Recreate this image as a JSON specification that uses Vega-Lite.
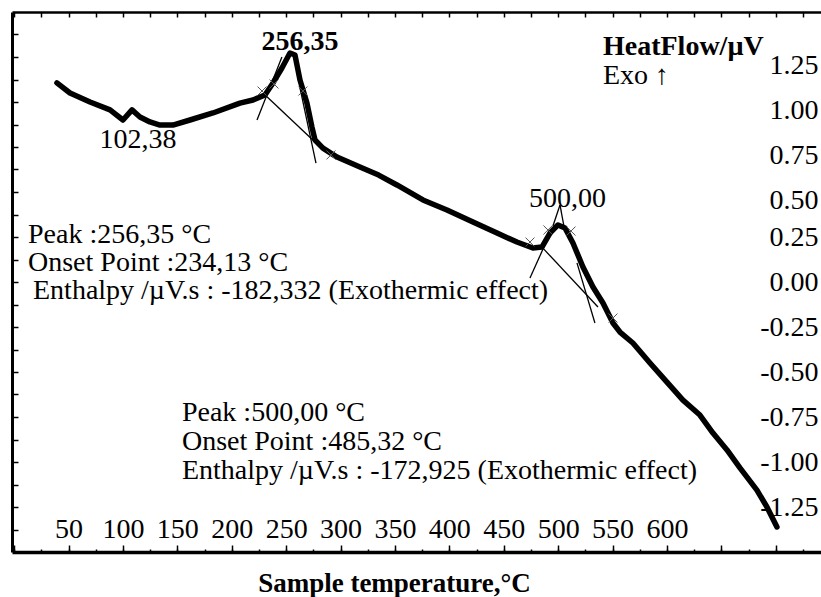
{
  "$schema": "https://vega.github.io/schema/vega-lite/v6.json",
  "usermeta": {"embedOptions": {"actions": false}},
  "width": 809,
  "height": 540,
  "autosize": {"type": "none"},
  "padding": {"left": 12, "top": 12, "right": 0, "bottom": 45},
  "background": "white",
  "config": {
    "font": "Liberation Serif",
    "view": {"stroke": null},
    "axis": {"grid": false, "domainColor": "black", "tickColor": "black", "labelColor": "black", "titleColor": "black", "labelFont": "Liberation Serif", "titleFont": "Liberation Serif"}
  },
  "datasets": {
    "curve": [
      {"t": 39.3, "hf": 1.106}, {"t": 51.3, "hf": 1.05}, {"t": 69.7, "hf": 1.0}, {"t": 88.1, "hf": 0.956},
      {"t": 100.0, "hf": 0.9}, {"t": 108.3, "hf": 0.956}, {"t": 115.6, "hf": 0.917}, {"t": 124.8, "hf": 0.889},
      {"t": 134.0, "hf": 0.872}, {"t": 145.9, "hf": 0.872}, {"t": 161.6, "hf": 0.9}, {"t": 182.7, "hf": 0.939},
      {"t": 207.5, "hf": 0.994}, {"t": 219.5, "hf": 1.011}, {"t": 230.5, "hf": 1.039}, {"t": 237.9, "hf": 1.106},
      {"t": 246.1, "hf": 1.189}, {"t": 253.5, "hf": 1.272}, {"t": 258.1, "hf": 1.261}, {"t": 262.7, "hf": 1.122},
      {"t": 269.1, "hf": 0.994}, {"t": 273.7, "hf": 0.861}, {"t": 276.5, "hf": 0.789}, {"t": 283.8, "hf": 0.744},
      {"t": 296.7, "hf": 0.694}, {"t": 317.8, "hf": 0.639}, {"t": 335.0, "hf": 0.594}, {"t": 351.8, "hf": 0.539},
      {"t": 375.7, "hf": 0.456}, {"t": 397.8, "hf": 0.4}, {"t": 421.7, "hf": 0.333}, {"t": 443.8, "hf": 0.272},
      {"t": 462.1, "hf": 0.222}, {"t": 476.8, "hf": 0.189}, {"t": 485.1, "hf": 0.194}, {"t": 492.5, "hf": 0.272},
      {"t": 499.8, "hf": 0.317}, {"t": 506.3, "hf": 0.3}, {"t": 513.6, "hf": 0.217}, {"t": 522.8, "hf": 0.083},
      {"t": 532.0, "hf": -0.028}, {"t": 541.2, "hf": -0.117}, {"t": 550.4, "hf": -0.228}, {"t": 556.8, "hf": -0.278},
      {"t": 568.7, "hf": -0.339}, {"t": 584.4, "hf": -0.45}, {"t": 600.0, "hf": -0.556}, {"t": 614.7, "hf": -0.656},
      {"t": 630.3, "hf": -0.739}, {"t": 642.3, "hf": -0.839}, {"t": 655.2, "hf": -0.933}, {"t": 667.1, "hf": -1.033},
      {"t": 682.7, "hf": -1.156}, {"t": 691.9, "hf": -1.25}, {"t": 701.1, "hf": -1.361}
    ],
    "tangents": [
      {"seg": "a", "t": 223.2, "hf": 0.9}, {"seg": "a", "t": 246.1, "hf": 1.25},
      {"seg": "b", "t": 228.7, "hf": 1.05}, {"seg": "b", "t": 277.4, "hf": 0.772},
      {"seg": "c", "t": 262.7, "hf": 1.078}, {"seg": "c", "t": 277.4, "hf": 0.661},
      {"seg": "d", "t": 474.1, "hf": 0.022}, {"seg": "d", "t": 490.6, "hf": 0.244},
      {"seg": "e", "t": 485.1, "hf": 0.194}, {"seg": "e", "t": 536.6, "hf": -0.139},
      {"seg": "f", "t": 517.3, "hf": 0.106}, {"seg": "f", "t": 533.8, "hf": -0.228},
      {"seg": "g", "t": 495.2, "hf": 0.311}, {"seg": "g", "t": 501.7, "hf": 0.428},
      {"seg": "h", "t": 501.7, "hf": 0.428}, {"seg": "h", "t": 505.3, "hf": 0.311}
    ],
    "markers": [
      {"t": 227.8, "hf": 1.061}, {"t": 238.8, "hf": 1.1}, {"t": 265.4, "hf": 1.061}, {"t": 291.2, "hf": 0.706},
      {"t": 474.1, "hf": 0.222}, {"t": 490.6, "hf": 0.289}, {"t": 511.8, "hf": 0.283}, {"t": 550.4, "hf": -0.2}
    ],
    "notes": [
      {"role": "mainpeak", "text": "256,35", "t": 262.7, "hf": 1.289},
      {"role": "peak", "text": "102,38", "t": 113.8, "hf": 0.744},
      {"role": "peak", "text": "500,00", "t": 508.5, "hf": 0.417},
      {"role": "unit", "text": "HeatFlow/µV", "t": 541.2, "hf": 1.261},
      {"role": "info", "text": "Exo ↑", "t": 541.2, "hf": 1.1},
      {"role": "info", "text": "Peak :256,35 °C", "t": 12.7, "hf": 0.217},
      {"role": "info", "text": "Onset Point :234,13 °C", "t": 12.7, "hf": 0.061},
      {"role": "info", "text": "Enthalpy /µV.s : -182,332 (Exothermic effect)", "t": 17.3, "hf": -0.094},
      {"role": "info", "text": "Peak :500,00 °C", "t": 154.2, "hf": -0.772},
      {"role": "info", "text": "Onset Point :485,32 °C", "t": 154.2, "hf": -0.933},
      {"role": "info", "text": "Enthalpy /µV.s : -172,925 (Exothermic effect)", "t": 154.2, "hf": -1.094}
    ]
  },
  "resolve": {"axis": {"x": "independent", "y": "independent"}},
  "layer": [
    {
      "data": {"name": "curve"},
      "mark": {"type": "line", "color": "black", "strokeWidth": 5.5, "strokeJoin": "round", "strokeCap": "round"},
      "encoding": {
        "x": {"field": "t", "type": "quantitative", "scale": {"domain": [-2, 741.6], "nice": false, "zero": false},
          "axis": {"orient": "bottom", "values": [0,25,50,75,100,125,150,175,200,225,250,275,300,325,350,375,400,425,450,475,500,525,550,575,600,625,650,675,700,725],
            "tickSize": -3, "tickWidth": 1.5, "domainWidth": 3.5, "labels": false,
            "title": "Sample temperature,°C", "titleFont": "Liberation Serif", "titleFontSize": 27, "titleFontWeight": "bold", "titleBaseline": "alphabetic", "titleAlign": "center", "titleX": 382, "titleY": 39}},
        "y": {"field": "hf", "type": "quantitative", "scale": {"domain": [-1.5, 1.5], "nice": false, "zero": false},
          "axis": {"orient": "left", "values": [-1.375,-1.25,-1.125,-1,-0.875,-0.75,-0.625,-0.5,-0.375,-0.25,-0.125,0,0.125,0.25,0.375,0.5,0.625,0.75,0.875,1,1.125,1.25,1.375],
            "tickSize": -6, "tickWidth": 1.5, "domainWidth": 3, "labels": false, "title": null}}
      }
    },
    {
      "data": {"name": "tangents"},
      "mark": {"type": "line", "color": "black", "strokeWidth": 1.3},
      "encoding": {
        "detail": {"field": "seg"},
        "x": {"field": "t", "type": "quantitative", "scale": {"domain": [-2, 741.6], "nice": false, "zero": false},
          "axis": {"orient": "bottom", "values": [0,50,100,150,200,250,300,350,400,450,500,550,600,650,700],
            "domain": false, "tickSize": -7, "tickWidth": 1.5, "labelFontSize": 28, "labelPadding": -8, "labelBaseline": "alphabetic",
            "labelOverlap": false, "labelFlush": false,
            "labelExpr": "datum.value >= 50 && datum.value <= 600 ? format(datum.value, 'd') : ''", "title": null}},
        "y": {"field": "hf", "type": "quantitative", "scale": {"domain": [-1.5, 1.5], "nice": false, "zero": false},
          "axis": {"orient": "right", "values": [-1.25,-1,-0.75,-0.5,-0.25,0,0.25,0.5,0.75,1,1.25],
            "domain": false, "ticks": false, "offset": -3, "labelAlign": "right", "labelPadding": 0, "labelFontSize": 28,
            "labelOverlap": false, "labelFlush": false,
            "labelOffset": {"condition": {"test": "datum.value > 0.4", "value": 8}, "value": 0},
            "labelExpr": "(datum.value < 0 ? '-' : '') + format(abs(datum.value), '.2f')", "title": null}}
      }
    },
    {
      "data": {"name": "markers"},
      "mark": {"type": "point", "shape": "M-1,-1L1,1M-1,1L1,-1", "size": 80, "filled": false, "stroke": "#555", "strokeWidth": 1, "opacity": 1},
      "encoding": {
        "x": {"field": "t", "type": "quantitative", "scale": {"domain": [-2, 741.6], "nice": false, "zero": false},
          "axis": {"orient": "top", "values": [0,25,50,75,100,125,150,175,200,225,250,275,300,325,350,375,400,425,450,475,500,525,550,575,600,625,650,675,700,725],
            "tickSize": -5, "tickWidth": 1.5, "domainWidth": 2.5, "labels": false, "title": null}},
        "y": {"field": "hf", "type": "quantitative", "scale": {"domain": [-1.5, 1.5], "nice": false, "zero": false}, "axis": null}
      }
    },
    {
      "data": {"name": "notes"},
      "transform": [{"filter": "datum.role === 'info'"}],
      "mark": {"type": "text", "align": "left", "baseline": "alphabetic", "fontSize": 28, "font": "Liberation Serif", "color": "black"},
      "encoding": {
        "x": {"field": "t", "type": "quantitative", "scale": {"domain": [-2, 741.6], "nice": false, "zero": false}, "axis": null},
        "y": {"field": "hf", "type": "quantitative", "scale": {"domain": [-1.5, 1.5], "nice": false, "zero": false}, "axis": null},
        "text": {"field": "text"}
      }
    },
    {
      "data": {"name": "notes"},
      "transform": [{"filter": "datum.role === 'unit'"}],
      "mark": {"type": "text", "align": "left", "baseline": "alphabetic", "fontSize": 28, "fontWeight": "bold", "font": "Liberation Serif", "color": "black"},
      "encoding": {
        "x": {"field": "t", "type": "quantitative", "scale": {"domain": [-2, 741.6], "nice": false, "zero": false}, "axis": null},
        "y": {"field": "hf", "type": "quantitative", "scale": {"domain": [-1.5, 1.5], "nice": false, "zero": false}, "axis": null},
        "text": {"field": "text"}
      }
    },
    {
      "data": {"name": "notes"},
      "transform": [{"filter": "datum.role === 'peak'"}],
      "mark": {"type": "text", "align": "center", "baseline": "alphabetic", "fontSize": 28, "font": "Liberation Serif", "color": "black"},
      "encoding": {
        "x": {"field": "t", "type": "quantitative", "scale": {"domain": [-2, 741.6], "nice": false, "zero": false}, "axis": null},
        "y": {"field": "hf", "type": "quantitative", "scale": {"domain": [-1.5, 1.5], "nice": false, "zero": false}, "axis": null},
        "text": {"field": "text"}
      }
    },
    {
      "data": {"name": "notes"},
      "transform": [{"filter": "datum.role === 'mainpeak'"}],
      "mark": {"type": "text", "align": "center", "baseline": "alphabetic", "fontSize": 28, "fontWeight": "bold", "font": "Liberation Serif", "color": "black"},
      "encoding": {
        "x": {"field": "t", "type": "quantitative", "scale": {"domain": [-2, 741.6], "nice": false, "zero": false}, "axis": null},
        "y": {"field": "hf", "type": "quantitative", "scale": {"domain": [-1.5, 1.5], "nice": false, "zero": false}, "axis": null},
        "text": {"field": "text"}
      }
    }
  ]
}
